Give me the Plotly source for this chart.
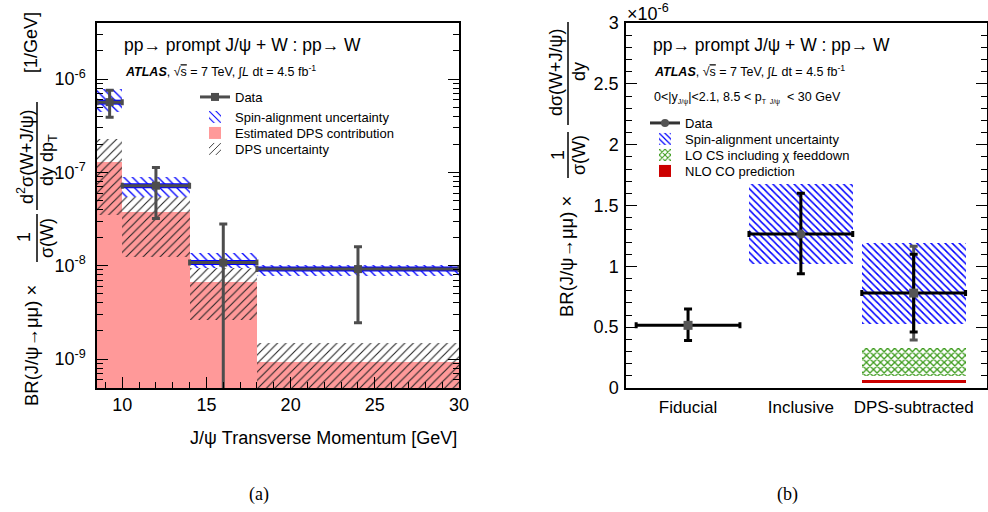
import plotly.graph_objects as go

W, H = 988, 512
FONT = "Liberation Sans, Arial, Helvetica, sans-serif"
SERIF = "Liberation Serif, Times New Roman, serif"

# ---------------- panel (a) data ----------------
pt_edges = [8.5, 10, 14, 18, 30]
pt_points = [9.25, 12, 16, 24]
data_val = [5.65e-7, 7.2e-8, 1.08e-8, 9.2e-9]
data_hi = [7.6e-7, 1.13e-7, 2.8e-8, 1.6e-8]
data_lo = [3.9e-7, 3.2e-8, 1e-12, 2.45e-9]
spin_lo_a = [4.4e-7, 5.5e-8, 9.5e-9, 7.8e-9]
spin_hi_a = [7.8e-7, 9.0e-8, 1.38e-8, 1.02e-8]
dps_val = [1.3e-7, 3.8e-8, 6.7e-9, 9.3e-10]
dps_lo = [3.5e-8, 1.23e-8, 2.6e-9, 1e-10]
dps_hi = [2.3e-7, 5.5e-8, 9.5e-9, 1.5e-9]
y_floor_a = 1e-10
ytick_a = [1e-9, 1e-8, 1e-7, 1e-6]
ytick_a_text = ["10<sup>-9</sup>", "10<sup>-8</sup>", "10<sup>-7</sup>", "10<sup>-6</sup>"]

# ---------------- panel (b) data (units of 1e-6) ----------------
cats = ["Fiducial", "Inclusive", "DPS-subtracted"]
b_val = [0.515, 1.265, 0.78]
b_hi = [0.65, 1.60, 1.10]
b_lo = [0.39, 0.94, 0.46]
b_tot_hi = [None, None, 1.165]
b_tot_lo = [None, None, 0.395]
spin_lo_b = [None, 1.02, 0.53]
spin_hi_b = [None, 1.68, 1.19]
lo_cs_lo = [None, None, 0.10]
lo_cs_hi = [None, None, 0.33]
nlo_co_lo = [None, None, 0.04]
nlo_co_hi = [None, None, 0.062]
b_halfwidth = 0.46
ytick_b = [0, 0.5, 1, 1.5, 2, 2.5, 3]
ytick_b_text = ["0", "0.5", "1", "1.5", "2", "2.5", "3"]

GREY = "#4d4d4d"
BLUE = "#0000ff"
PINK = "#ff9999"
GREEN = "#3a9a1a"
RED = "#cc0000"

def px(x):
    return x / W

def py(y):
    return 1 - y / H

# derived bin geometry for (a)
a_cent = [(pt_edges[i] + pt_edges[i + 1]) / 2 for i in range(len(pt_points))]
a_wid = [pt_edges[i + 1] - pt_edges[i] for i in range(len(pt_points))]
a_xplus = [pt_edges[i + 1] - pt_points[i] for i in range(len(pt_points))]
a_xminus = [pt_points[i] - pt_edges[i] for i in range(len(pt_points))]

fig = go.Figure()

# ---- (a) estimated DPS ----
fig.add_trace(go.Bar(
    x=a_cent, base=[y_floor_a] * len(dps_val), y=[d - y_floor_a for d in dps_val], width=a_wid,
    marker=dict(color=PINK, line=dict(width=0)), name="Estimated DPS contribution",
    xaxis="x", yaxis="y", legend="legend3", hoverinfo="skip"))
# ---- (a) DPS uncertainty ----
fig.add_trace(go.Bar(
    x=a_cent, base=dps_lo, y=[h - l for h, l in zip(dps_hi, dps_lo)], width=a_wid,
    marker=dict(color="rgba(0,0,0,0)", line=dict(width=0),
                pattern=dict(shape="/", fgcolor="#222222", bgcolor="rgba(0,0,0,0)", size=6, solidity=0.18)),
    name="DPS uncertainty", xaxis="x", yaxis="y", legend="legend4", hoverinfo="skip"))
# ---- (a) spin alignment ----
fig.add_trace(go.Bar(
    x=a_cent, base=spin_lo_a, y=[h - l for h, l in zip(spin_hi_a, spin_lo_a)], width=a_wid,
    marker=dict(color="rgba(0,0,0,0)", line=dict(width=0),
                pattern=dict(shape="\\", fgcolor=BLUE, bgcolor="rgba(0,0,0,0)", size=6, solidity=0.22)),
    name="Spin-alignment uncertainty", xaxis="x", yaxis="y", legend="legend2", hoverinfo="skip"))
# blue central line of spin band
fig.add_trace(go.Scatter(
    x=pt_points, y=data_val, mode="markers", marker=dict(size=1, color="rgba(0,0,0,0)"),
    error_x=dict(type="data", symmetric=False, array=a_xplus, arrayminus=a_xminus,
                 color=BLUE, thickness=5, width=0),
    showlegend=False, xaxis="x", yaxis="y", hoverinfo="skip"))
# data
fig.add_trace(go.Scatter(
    x=pt_points, y=data_val, mode="markers",
    marker=dict(symbol="square", size=8, color=GREY),
    error_x=dict(type="data", symmetric=False, array=a_xplus, arrayminus=a_xminus,
                 color=GREY, thickness=3, width=3),
    error_y=dict(type="data", symmetric=False,
                 array=[h - v for h, v in zip(data_hi, data_val)],
                 arrayminus=[v - l for v, l in zip(data_val, data_lo)],
                 color=GREY, thickness=3, width=4),
    showlegend=False, xaxis="x", yaxis="y"))
# legend entry for data (a)
fig.add_trace(go.Scatter(
    x=[None], y=[None], mode="lines+markers", line=dict(color=GREY, width=3),
    marker=dict(symbol="square", size=8, color=GREY), name="Data",
    xaxis="x", yaxis="y", legend="legend"))

# ---- (b) ----
xb = list(range(len(cats)))

def sel(vals):
    return [i for i, v in enumerate(vals) if v is not None]

idx = sel(spin_lo_b)
fig.add_trace(go.Bar(
    x=[xb[i] for i in idx], base=[spin_lo_b[i] for i in idx],
    y=[spin_hi_b[i] - spin_lo_b[i] for i in idx], width=2 * b_halfwidth,
    marker=dict(color="rgba(0,0,0,0)", line=dict(width=0),
                pattern=dict(shape="\\", fgcolor=BLUE, bgcolor="rgba(0,0,0,0)", size=5, solidity=0.3)),
    name="Spin-alignment uncertainty", xaxis="x2", yaxis="y2", legend="legend6", hoverinfo="skip"))
idx = sel(lo_cs_lo)
fig.add_trace(go.Bar(
    x=[xb[i] for i in idx], base=[lo_cs_lo[i] for i in idx],
    y=[lo_cs_hi[i] - lo_cs_lo[i] for i in idx], width=2 * b_halfwidth,
    marker=dict(color="rgba(0,0,0,0)", line=dict(width=0),
                pattern=dict(shape="x", fgcolor=GREEN, bgcolor="rgba(0,0,0,0)", size=5, solidity=0.45)),
    name="LO CS including χ feeddown", xaxis="x2", yaxis="y2", legend="legend7", hoverinfo="skip"))
idx = sel(nlo_co_lo)
fig.add_trace(go.Bar(
    x=[xb[i] for i in idx], base=[nlo_co_lo[i] for i in idx],
    y=[nlo_co_hi[i] - nlo_co_lo[i] for i in idx], width=2 * b_halfwidth,
    marker=dict(color=RED, line=dict(width=0)),
    name="NLO CO prediction", xaxis="x2", yaxis="y2", legend="legend8", hoverinfo="skip"))
# outer (total) error on DPS-subtracted
idx = sel(b_tot_hi)
fig.add_trace(go.Scatter(
    x=[xb[i] for i in idx], y=[b_val[i] for i in idx], mode="markers",
    marker=dict(size=1, color="rgba(0,0,0,0)"),
    error_y=dict(type="data", symmetric=False,
                 array=[b_tot_hi[i] - b_val[i] for i in idx],
                 arrayminus=[b_val[i] - b_tot_lo[i] for i in idx],
                 color="#555555", thickness=3, width=4),
    showlegend=False, xaxis="x2", yaxis="y2", hoverinfo="skip"))
fig.add_trace(go.Scatter(
    x=xb, y=b_val, mode="markers",
    marker=dict(symbol=["square", "circle", "square"], size=9, color="#555555"),
    error_x=dict(type="constant", value=b_halfwidth, color="black", thickness=3, width=3),
    error_y=dict(type="data", symmetric=False,
                 array=[h - v for h, v in zip(b_hi, b_val)],
                 arrayminus=[v - l for v, l in zip(b_val, b_lo)],
                 color="black", thickness=3, width=4),
    showlegend=False, xaxis="x2", yaxis="y2"))
fig.add_trace(go.Scatter(
    x=[None], y=[None], mode="lines+markers", line=dict(color="#333333", width=3),
    marker=dict(symbol="circle", size=8, color="#555555"), name="Data",
    xaxis="x2", yaxis="y2", legend="legend5"))

# ---------------- layout ----------------
def leg(xp, yp):
    return dict(x=px(xp), y=py(yp), xanchor="left", yanchor="middle",
                bgcolor="rgba(0,0,0,0)", borderwidth=0, itemwidth=30,
                font=dict(family=FONT, size=13, color="black"))

axis_common = dict(showline=True, linecolor="black", linewidth=1.5, showgrid=False,
                   zeroline=False, tickfont=dict(family=FONT, size=18, color="black"))

log_minor = [m * 10.0 ** e for e in range(-10, -5) for m in range(2, 10)]

fig.update_layout(
    width=W, height=H, margin=dict(l=0, r=0, t=0, b=0),
    paper_bgcolor="white", plot_bgcolor="white", template="none",
    barmode="overlay", bargap=0, font=dict(family=FONT, color="black"),
    xaxis=dict(domain=[px(97), px(459)], range=[8.5, 30], anchor="y",
               tickvals=[10, 15, 20, 25, 30], ticks="inside", ticklen=11, tickcolor="black",
               minor=dict(ticks="inside", ticklen=6, dtick=1, tick0=0, tickcolor="black"),
               mirror=True, ticklabelstandoff=0, **axis_common),
    yaxis=dict(domain=[py(388), py(23)], type="log", range=[-9.31, -5.40], anchor="x",
               tickvals=ytick_a, ticktext=ytick_a_text, ticks="inside", ticklen=11, tickcolor="black",
               minor=dict(ticks="inside", ticklen=6, tickvals=log_minor, tickcolor="black"),
               mirror="allticks", ticklabelstandoff=6, **axis_common),
    xaxis2=dict(domain=[px(626), px(987)], range=[-0.55, 2.65], anchor="y2",
                tickvals=xb, ticktext=cats, ticks="", mirror=True, ticklabelstandoff=3,
                **{**axis_common, "tickfont": dict(family=FONT, size=17, color="black")}),
    yaxis2=dict(domain=[py(388), py(23)], range=[0, 3], anchor="x2",
                tickvals=ytick_b, ticktext=ytick_b_text, ticks="inside", ticklen=11, tickcolor="black",
                minor=dict(ticks="inside", ticklen=6, dtick=0.1, tick0=0, tickcolor="black"),
                mirror="allticks", ticklabelstandoff=2, **axis_common),
    legend=leg(195, 97), legend2=leg(195, 117), legend3=leg(195, 133), legend4=leg(195, 149),
    legend5=leg(645, 123), legend6=leg(645, 139), legend7=leg(645, 155), legend8=leg(645, 171),
)

ann = []

def text(x, y, s, size, xanchor="left", angle=0, family=FONT):
    ann.append(dict(x=px(x), y=py(y), xref="paper", yref="paper", text=s, showarrow=False,
                    xanchor=xanchor, yanchor="middle", textangle=angle,
                    font=dict(family=family, size=size, color="black")))

ATLAS_TXT = ("<b><i>ATLAS</i></b>, √<span style='text-decoration:overline'>s</span> = 7 TeV, "
             "∫<i>L</i> dt = 4.5 fb<sup>-1</sup>")

# panel (a) texts
text(122, 45, "pp→ prompt J/ψ + W : pp→ W", 17.5)
text(123, 71, ATLAS_TXT, 12.5)
text(459, 438, "J/ψ Transverse Momentum [GeV]", 18, xanchor="right")
text(259, 494, "(a)", 18, xanchor="center", family=SERIF)
# panel (a) y title
text(31, 345, "BR(J/ψ→μμ) ×", 18.5, xanchor="center", angle=-90)
text(24, 237, "1", 18, xanchor="center", angle=-90)
text(47, 238, "σ(W)", 18, xanchor="center", angle=-90)
text(25, 157, "d<sup>2</sup>σ(W+J/ψ)", 18, xanchor="center", angle=-90)
text(48, 160, "dy dp<sub>T</sub>", 18, xanchor="center", angle=-90)
text(31, 42, "[1/GeV]", 18, xanchor="center", angle=-90)

# panel (b) texts
text(651, 45, "pp→ prompt J/ψ + W : pp→ W", 17.5)
text(652, 71, ATLAS_TXT, 12.5)
text(652, 98, "0<|y<sub><span style='font-size:7px'>J/ψ</span></sub>|<2.1, 8.5 < p<sub><span style='font-size:7px'>T  J/ψ</span></sub>  < 30 GeV", 12.5)
text(625, 12, "×10<sup>-6</sup>", 18)
text(787, 494, "(b)", 18, xanchor="center", family=SERIF)
# panel (b) y title
text(566, 257, "BR(J/ψ→μμ) ×", 18.5, xanchor="center", angle=-90)
text(558, 155, "1", 18, xanchor="center", angle=-90)
text(579, 155, "σ(W)", 18, xanchor="center", angle=-90)
text(556, 73, "dσ(W+J/ψ)", 18, xanchor="center", angle=-90)
text(579, 72, "dy", 18, xanchor="center", angle=-90)

fig.update_layout(annotations=ann)

shapes = []

def vline(x, y0, y1):
    shapes.append(dict(type="line", xref="paper", yref="paper", x0=px(x), x1=px(x),
                       y0=py(y0), y1=py(y1), line=dict(color="black", width=1.5)))

vline(37, 102, 210)
vline(37, 214, 262)
vline(568, 22, 125)
vline(568, 132, 178)
fig.update_layout(shapes=shapes)

fig.write_html("out.html", config={"displayModeBar": False},
               post_script="document.body.style.margin='0';document.body.style.overflow='hidden';")
